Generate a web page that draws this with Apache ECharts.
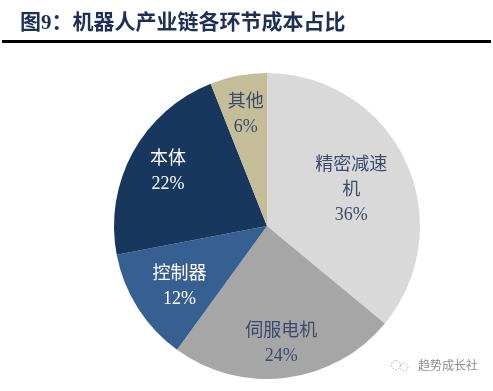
<!DOCTYPE html>
<html>
<head>
<meta charset="utf-8">
<script src="https://cdn.jsdelivr.net/npm/echarts@6/dist/echarts.min.js"></script>
<style>
html,body{margin:0;padding:0;background:#fff;}
#c{width:493px;height:391px;}
</style>
</head>
<body>
<div id="c"></div>
<script>
const titleText = '图9：机器人产业链各环节成本占比';
const categories = ['精密减速机', '伺服电机', '控制器', '本体', '其他'];
const values = [36, 24, 12, 22, 6];
const sliceColors = ['#d9d9d9', '#a6a6a6', '#366092', '#17375e', '#c4bd97'];
const labelColors = ['#3b4a6c', '#3b4a6c', '#ffffff', '#ffffff', '#3b4a6c'];
const watermark = '趋势成长社';

const FONT = '"Liberation Serif", "Noto Sans CJK SC", serif';
const chart = echarts.init(document.getElementById('c'));

const data = categories.map((n, i) => ({
  name: n, value: values[i],
  itemStyle: { color: sliceColors[i] }
}));
const labelShift = { '精密减速机': [-18, 12], '伺服电机': [0, 6], '控制器': [8, 0] };
const labelData = categories.map((n, i) => ({
  name: n, value: values[i],
  label: { color: labelColors[i], offset: labelShift[n] || [0, 0] }
}));

function wrap(name) {
  if (name.length > 4) return name.slice(0, 4) + '\n' + name.slice(4);
  return name;
}

chart.setOption({
  animation: false,
  title: {
    text: titleText, left: 15, top: 8,
    textStyle: { fontSize: 21, fontWeight: 'bold', color: '#1f3055', fontFamily: FONT }
  },
  graphic: [
    { type: 'rect', shape: { x: 2, y: 40, width: 489, height: 3 }, style: { fill: '#000' } },
    { type: 'circle', shape: { cx: 396, cy: 365, r: 4.5 }, style: { fill: 'none', stroke: '#aaa', lineWidth: 1, lineDash: [1.5, 1.5] } },
    { type: 'circle', shape: { cx: 404, cy: 367, r: 4 }, style: { fill: 'none', stroke: '#aaa', lineWidth: 1, lineDash: [1.5, 1.5] } },
    { type: 'text', left: 418, top: 359, style: { text: watermark, fontSize: 12, fill: '#8c8c8c', fontFamily: '"Noto Sans CJK SC", sans-serif' } }
  ],
  series: [
    {
      type: 'pie', center: [267, 226], radius: [0, 153],
      startAngle: 90, clockwise: true, silent: true,
      label: { show: false }, labelLine: { show: false },
      data: data
    },
    {
      type: 'pie', center: [267, 226], radius: [68, 152],
      startAngle: 90, clockwise: true, silent: true,
      itemStyle: { color: 'rgba(0,0,0,0)' },
      labelLine: { show: false },
      label: {
        show: true, position: 'inside',
        formatter: p => wrap(p.name) + '\n' + p.value + '%',
        fontSize: 18, lineHeight: 25, fontFamily: FONT
      },
      data: labelData
    }
  ]
});
</script>
</body>
</html>
